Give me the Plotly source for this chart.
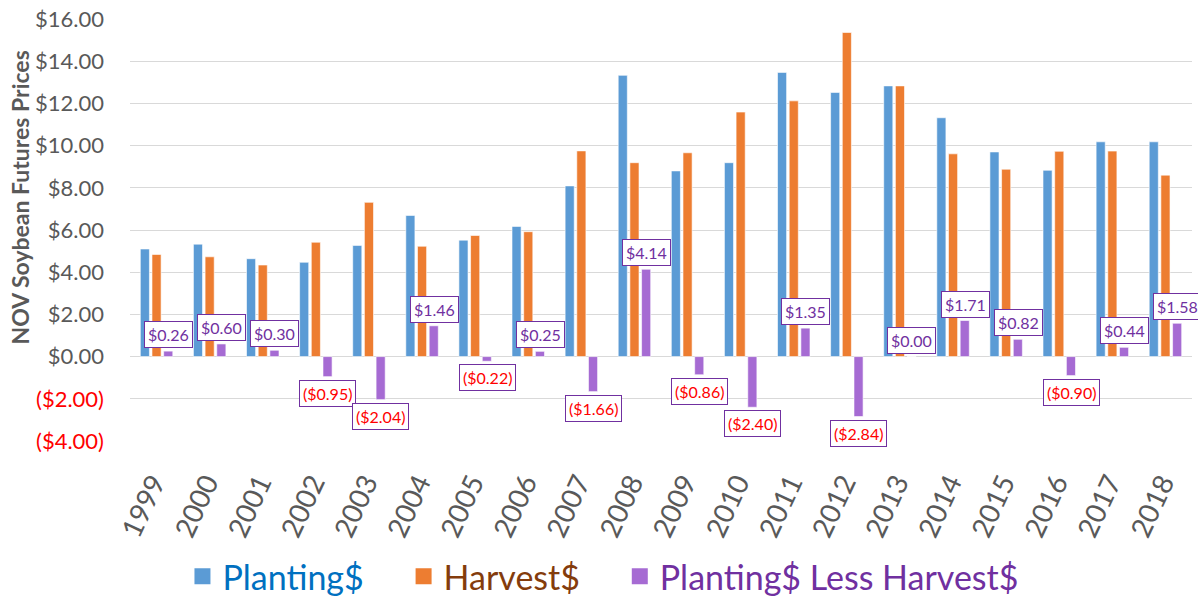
import plotly.graph_objects as go

years = [str(y) for y in range(1999, 2019)]
planting = [5.10, 5.33, 4.64, 4.47, 5.27, 6.69, 5.52, 6.17, 8.09, 13.33,
            8.80, 9.19, 13.47, 12.52, 12.83, 11.32, 9.70, 8.83, 10.18, 10.18]
harvest = [4.84, 4.73, 4.34, 5.42, 7.31, 5.23, 5.74, 5.92, 9.75, 9.19,
           9.66, 11.59, 12.12, 15.36, 12.83, 9.61, 8.88, 9.73, 9.74, 8.60]
diff = [0.26, 0.60, 0.30, -0.95, -2.04, 1.46, -0.22, 0.25, -1.66, 4.14,
        -0.86, -2.40, 1.35, -2.84, 0.00, 1.71, 0.82, -0.90, 0.44, 1.58]
ytick_vals = [-4, -2, 0, 2, 4, 6, 8, 10, 12, 14, 16]
series_names = ["Planting$", "Harvest$", "Planting$ Less Harvest$"]

FONT = "Lato"
BLUE, ORANGE, PURPLE = "#5B9BD5", "#ED7D31", "#A66BD3"
LEGEND_TEXT = ["#0070C0", "#843C0C", "#7030A0"]
LEGEND_PAD = ["&nbsp;" * 4, "&nbsp;" * 4, ""]
LBL_PURPLE, RED = "#7030A0", "#FF0000"

pos = list(range(len(years)))  # category slots


def money(v):
    return f"(${abs(v):.2f})" if v < 0 else f"${v:.2f}"


fig = go.Figure()
for vals, col, nm, tc, pad in zip([planting, harvest, diff], [BLUE, ORANGE, PURPLE],
                                  series_names, LEGEND_TEXT, LEGEND_PAD):
    fig.add_bar(x=pos, y=vals, name=nm, showlegend=False,
                marker=dict(color=col, line=dict(color="white", width=0.6)))
    # legend proxy with a larger square marker
    fig.add_scatter(x=[None], y=[None], mode="markers",
                    name=f'<span style="color:{tc}">{nm}</span>{pad}',
                    marker=dict(symbol="square", size=17, color=col))

for i, v in zip(pos, diff):
    neg = v < 0
    fig.add_annotation(
        x=i, y=v, xref="x", yref="y", xshift=12,
        yshift=-3 if neg else 3,
        yanchor="top" if neg else "bottom",
        text=money(v), showarrow=False,
        font=dict(family=FONT, size=16, color=RED if neg else LBL_PURPLE),
        bgcolor="white", bordercolor=LBL_PURPLE, borderwidth=1, borderpad=3,
    )

fig.add_annotation(
    x=-0.104, xref="paper", xanchor="center", y=0.576, yref="paper", yanchor="middle",
    text="<b>NOV Soybean Futures Prices</b>", textangle=-90, showarrow=False,
    font=dict(family=FONT, size=23, color="#595959"),
)

ticktext = []
for t in ytick_vals:
    if t < 0:
        ticktext.append(f'<span style="color:#FF0000">{money(t)}</span>')
    else:
        ticktext.append(money(t))

fig.update_layout(
    width=1198, height=605,
    margin=dict(l=130, r=6, t=19, b=164, autoexpand=False),
    paper_bgcolor="white", plot_bgcolor="white",
    barmode="group", bargap=0.34, bargroupgap=0.22,
    font=dict(family=FONT, color="#595959"),
    showlegend=True,
    legend=dict(orientation="h", x=0.0494, xanchor="left", y=-0.253, yanchor="top",
                font=dict(family=FONT, size=34), itemsizing="trace",
                traceorder="normal"),
    xaxis=dict(type="linear", range=[-0.5, len(years) - 0.5], automargin=False,
               tickmode="array", tickvals=pos, ticktext=years, tickangle=-65,
               tickfont=dict(family=FONT, size=28, color="#595959"),
               showgrid=False, showline=False, zeroline=False, ticks="",
               ticklabelstandoff=19, ticklabelshift=-3),
    yaxis=dict(range=[-4, 16], tickvals=ytick_vals, ticktext=ticktext, automargin=False,
               tickfont=dict(family=FONT, size=22, color="#595959"),
               showgrid=True, gridcolor="#D9D9D9", gridwidth=1,
               zeroline=True, zerolinecolor="#D9D9D9", zerolinewidth=1,
               ticks="", ticklabelstandoff=25),
)

fig.write_html("out.html", config={"displayModeBar": False},
               post_script="document.body.style.margin='0';")
